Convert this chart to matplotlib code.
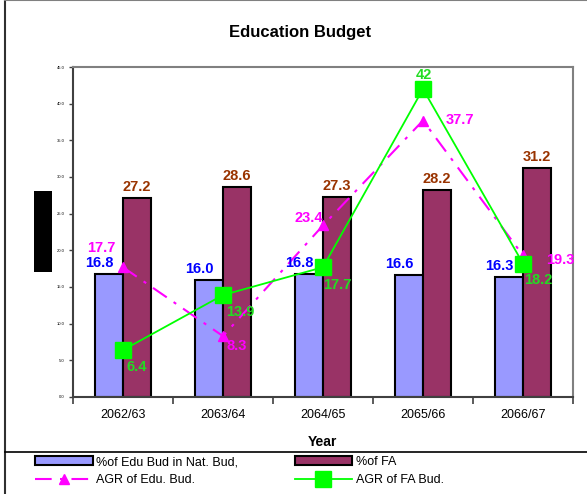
import numpy as np
import matplotlib
matplotlib.use("Agg")
import matplotlib.pyplot as plt
from matplotlib.lines import Line2D
from matplotlib.patches import Rectangle

plt.rcParams['font.family'] = ['Liberation Sans', 'DejaVu Sans']

years = ["2062/63", "2063/64", "2064/65", "2065/66", "2066/67"]
edu_share = [16.8, 16.0, 16.8, 16.6, 16.3]
fa_share = [27.2, 28.6, 27.3, 28.2, 31.2]
agr_edu = [17.7, 8.3, 23.4, 37.7, 19.3]
agr_fa = [6.4, 13.9, 17.7, 42, 18.2]
agr_fa_text = ["6.4", "13.9", "17.7", "42", "18.2"]

fig = plt.figure(figsize=(5.87, 4.94), dpi=100)
ax = fig.add_axes([73/587, 1-397/494, 500/587, 330/494])

x = np.arange(len(years))
w = 0.28
b1 = ax.bar(x - w/2, edu_share, w, color='#9999FF', edgecolor='black', linewidth=1.5,
            label="%of Edu Bud in Nat. Bud,", zorder=2)
b2 = ax.bar(x + w/2, fa_share, w, color='#993366', edgecolor='black', linewidth=1.5,
            label="%of FA", zorder=2)
l1, = ax.plot(x, agr_edu, color='#FF00FF', linestyle=(0, (8, 4, 1.5, 4)), linewidth=1.5,
              marker='^', markersize=7, label="AGR of Edu. Bud.", zorder=3)
l2, = ax.plot(x, agr_fa, color='#00FF00', linewidth=1.3, marker='s', markersize=11,
              label="AGR of FA Bud.", zorder=4)

ax.set_xlim(-0.5, 4.5)
ax.set_ylim(0, 45)
ax.set_yticks(np.arange(0, 46, 5))
ax.set_yticklabels(["0.0"] + ["%.1f" % v for v in np.arange(5, 46, 5)], fontsize=3)
ax.set_xticks(np.arange(-0.5, 5, 1))
ax.set_xticklabels([])
ax.set_xticks(x, minor=True)
ax.set_xticklabels(years, minor=True, fontsize=9)
ax.tick_params(axis='x', which='minor', length=0, pad=9)
ax.tick_params(axis='x', which='major', length=5, width=1.2, color='#404040')
ax.tick_params(axis='y', length=3, width=1, color='#404040', pad=3)
for s in ['left', 'bottom']:
    ax.spines[s].set_color('#404040')
    ax.spines[s].set_linewidth(1.5)
for s in ['top', 'right']:
    ax.spines[s].set_color('#808080')
    ax.spines[s].set_linewidth(1.5)

fs = 10.5
for i, v in enumerate(edu_share):
    ax.annotate("%.1f" % v, (x[i] - w/2, v), xytext=(-10, 11), textcoords='offset pixels',
                ha='center', va='center', color='#0000FF', fontsize=fs, fontweight='bold')
for i, v in enumerate(fa_share):
    ax.annotate("%.1f" % v, (x[i] + w/2, v), xytext=(0, 11), textcoords='offset pixels',
                ha='center', va='center', color='#993300', fontsize=fs, fontweight='bold')
edu_off = [(-22, 19), (14, -10), (-14, 7), (37, 1), (37, -5)]
for i, v in enumerate(agr_edu):
    ax.annotate("%.1f" % v, (x[i], v), xytext=edu_off[i], textcoords='offset pixels',
                ha='center', va='center', color='#FF00FF', fontsize=fs, fontweight='bold')
fa_off = [(14, -17), (17, -17), (14, -18), (1, 14), (15, -16)]
for i, v in enumerate(agr_fa):
    ax.annotate(agr_fa_text[i], (x[i], v), xytext=fa_off[i], textcoords='offset pixels',
                ha='center', va='center', color='#22DD22', fontsize=fs, fontweight='bold')

fig.text(300/587, 1-33/494, "Education Budget", ha='center', va='center',
         fontsize=12, fontweight='bold')
fig.text(322/587, 1-442/494, "Year", ha='center', va='center', fontsize=10, fontweight='bold')

# black box where the y label was
fig.patches.append(Rectangle((34/587, 1-272/494), 18/587, 81/494, transform=fig.transFigure,
                             facecolor='black', edgecolor='none'))
# outer frame and legend frame
fig.add_artist(Line2D([5/587, 5/587], [0, 1], transform=fig.transFigure, color='#303030', linewidth=1.5))
fig.add_artist(Line2D([5/587, 1], [1, 1], transform=fig.transFigure, color='#808080', linewidth=1.5))
fig.add_artist(Line2D([5/587, 1], [1-452/494, 1-452/494], transform=fig.transFigure,
                      color='black', linewidth=1.2))

leg = fig.legend([b1, l1, b2, l2],
                 ["%of Edu Bud in Nat. Bud,", "AGR of Edu. Bud.", "%of FA", "AGR of FA Bud."],
                 ncol=2, loc='upper left', bbox_to_anchor=(35/587, 1-456/494),
                 borderaxespad=0, borderpad=0, fontsize=9, handlelength=4.6,
                 handletextpad=0.3, frameon=False, labelspacing=0.5, columnspacing=4.5)

fig.savefig("out.png", dpi=100)
